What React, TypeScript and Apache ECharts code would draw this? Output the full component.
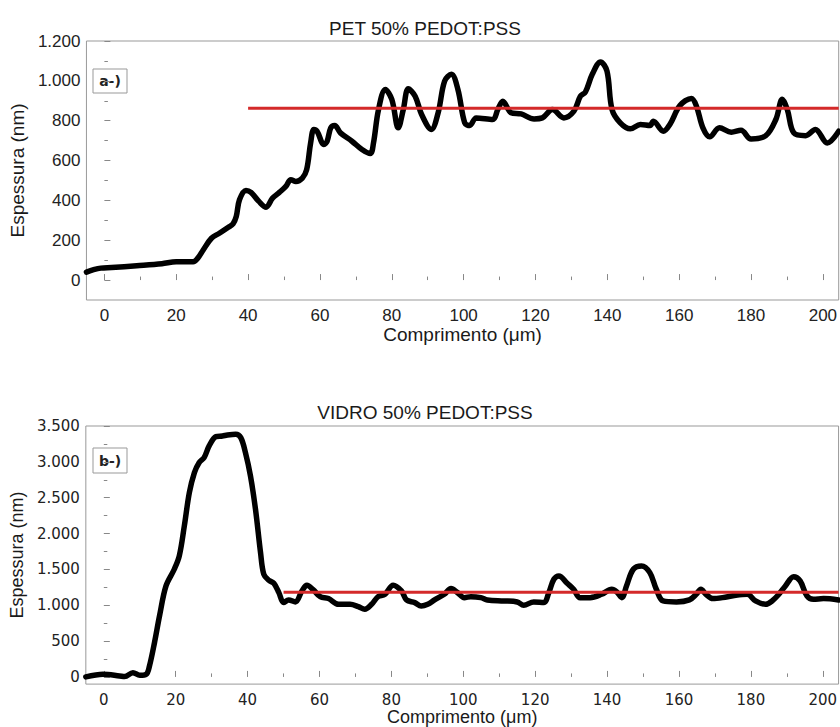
import React, { useEffect, useRef } from "react";
import * as echarts from "echarts";

// ---- data ----
const petX = [
  -5, -3, -1, 2, 9, 16, 20, 24.7, 26, 27.5,
  29.8, 32, 34.5, 35.8, 36.7, 37.6, 39.4, 40.8, 43, 45,
  46.8, 48.7, 50.5, 51.9, 53.3, 55.1, 56.3, 57.4, 58.3, 59.2,
  61.1, 62, 63, 64.1, 65.7, 68.9, 71.7, 74, 74.9, 76.3,
  78.2, 80, 81.8, 83.2, 84.6, 86.5, 88.3, 91, 92.9, 94.7,
  96.6, 98.4, 100.3, 101.7, 103.5, 108.1, 109.5, 110.9, 113.2, 116,
  119.6, 121.9, 124.7, 127.9, 130.7, 132.5, 133.9, 135.8, 138.1, 139.9,
  141.3, 143.6, 146.4, 149.2, 151.9, 152.8, 155.6, 157.4, 160.2, 163.4,
  164.8, 166.6, 168.5, 171.2, 174.5, 177.2, 180, 184.1, 186.9, 188.7,
  190.1, 191.9, 195.2, 197.9, 201.2, 204.4,
];
const petY = [
  40, 52, 60, 63, 72, 82, 92, 92, 110, 151,
  210, 235, 265, 282, 319, 403, 450, 440, 395, 366,
  411, 440, 470, 504, 495, 512, 554, 688, 756, 747,
  680, 697, 764, 776, 739, 697, 655, 635, 688, 856,
  957, 907, 764, 856, 960, 923, 831, 756, 840, 999,
  1033, 957, 789, 776, 814, 806, 856, 898, 840, 834,
  809, 814, 856, 814, 848, 923, 944, 1033, 1095, 1049,
  856, 789, 759, 781, 776, 797, 747, 781, 876, 912,
  873, 764, 719, 764, 742, 752, 708, 725, 806, 907,
  856, 739, 725, 756, 688, 747,
];
const vidroX = [
  -5, -0.2, 4.4, 5.8, 8.1, 10, 11.8, 12.7, 14.1, 15.5,
  17.3, 19.6, 21, 22.4, 23.8, 25.2, 26.5, 27.9, 29.3, 31.2,
  33, 34.4, 36.7, 38.1, 39.4, 40.8, 42.2, 43.6, 44.5, 45.9,
  47.3, 48.7, 50, 51.4, 53.3, 55.1, 56.5, 58.3, 60.2, 62.5,
  65.3, 68.5, 70.8, 72.6, 74.5, 76.3, 78.2, 80.5, 82.8, 84.2,
  86.5, 88.3, 90.1, 92, 94.7, 96.6, 98.4, 100.3, 102.1, 104.9,
  106.7, 111.3, 115, 116.8, 119.6, 122.4, 123.8, 125.2, 126.6, 128.9,
  130.7, 132.5, 135.3, 138.5, 141.3, 142.7, 144.1, 145.4, 147.3, 149.6,
  151.9, 153.7, 155.6, 159.3, 162.9, 164.8, 166.1, 167.5, 169.4, 172.1,
  175.8, 179, 181.3, 184.1, 185.9, 187.8, 189.6, 191.9, 193.7, 195.6,
  197.4, 200.2, 204.4,
];
const vidroY = [
  0, 37, 14, 5, 60, 23, 37, 153, 479, 851,
  1269, 1502, 1688, 2106, 2571, 2850, 2989, 3059, 3222, 3352,
  3361, 3375, 3385, 3338, 3129, 2803, 2338, 1734, 1432, 1348,
  1306, 1176, 1037, 1074, 1046, 1199, 1278, 1213, 1120, 1093,
  1013, 1013, 981, 944, 1013, 1120, 1153, 1278, 1199, 1074,
  1037, 990, 1013, 1074, 1153, 1232, 1176, 1106, 1120, 1106,
  1074, 1060, 1046, 1000, 1046, 1037, 1176, 1362, 1409, 1306,
  1223, 1106, 1106, 1153, 1223, 1185, 1106, 1269, 1502, 1548,
  1455, 1223, 1060, 1046, 1074, 1153, 1223, 1153, 1093, 1106,
  1139, 1153, 1060, 1013, 1060, 1153, 1269, 1399, 1339, 1130,
  1083, 1093, 1074,
];
const petMeanLine = { from: 40, to: 204.4, value: 862 };
const vidroMeanLine = { from: 50, to: 204.4, value: 1180 };

const xMajorTicks = [0, 20, 40, 60, 80, 100, 120, 140, 160, 180, 200];
const xMinorTicks = [10, 30, 50, 70, 90, 110, 130, 150, 170, 190];
const petYMajor = [0, 200, 400, 600, 800, 1000, 1200];
const petYMinor = [100, 300, 500, 700, 900, 1100];
const vidroYMajor = [0, 500, 1000, 1500, 2000, 2500, 3000, 3500];
const vidroYMinor = [250, 750, 1250, 1750, 2250, 2750, 3250];

const titles = ["PET 50% PEDOT:PSS", "VIDRO 50% PEDOT:PSS"];
const panelLabels = ["a-)", "b-)"];
const xName = "Comprimento (μm)";
const yName = "Espessura (nm)";

const fmt = (v: number) =>
  v >= 1000 ? `${Math.floor(v / 1000)}.${String(v % 1000).padStart(3, "0")}` : String(v);

const zip = (xs: number[], ys: number[]) => xs.map((x, i) => [x, ys[i]]);

export default function App() {
  const ref = useRef<HTMLDivElement>(null);
  useEffect(() => {
    if (!ref.current) return;
    const chart = echarts.init(ref.current, null, { renderer: "svg" });
    const arial = "Liberation Sans, Arial, sans-serif";
    const dejavu = "DejaVu Sans, Verdana, sans-serif";
    const X_MIN = -5;
    const X_MAX = 204.4;

    const mkX = (grid: number, main: boolean, font: string, size: number, gap: number, margin: number) => ({
      type: "value",
      gridIndex: grid,
      min: X_MIN,
      max: X_MAX,
      position: "bottom",
      name: main ? xName : "",
      nameLocation: "middle",
      nameGap: gap,
      nameTextStyle: { fontFamily: arial, fontSize: grid === 0 ? 19 : 18, color: "#1a1a1a" },
      axisLine: { show: false },
      splitLine: { show: false },
      axisTick: {
        show: true,
        inside: true,
        length: main ? 6 : 3.5,
        lineStyle: { color: "#888", width: 1 },
        customValues: main ? xMajorTicks : xMinorTicks,
      },
      axisLabel: {
        show: main,
        customValues: xMajorTicks,
        fontFamily: font,
        fontSize: size,
        color: "#222",
        margin,
      },
    });
    const mkY = (
      grid: number,
      main: boolean,
      min: number,
      max: number,
      major: number[],
      minor: number[],
      font: string,
      size: number,
      gap: number
    ) => ({
      type: "value",
      gridIndex: grid,
      min,
      max,
      position: "left",
      name: main ? yName : "",
      nameLocation: "middle",
      nameGap: gap,
      nameRotate: 90,
      nameTextStyle: { fontFamily: arial, fontSize: grid === 0 ? 19 : 18, color: "#1a1a1a" },
      axisLine: { show: false },
      splitLine: { show: false },
      axisTick: {
        show: true,
        inside: true,
        length: main ? 6 : 3.5,
        lineStyle: { color: "#888", width: 1 },
        customValues: main ? major : minor,
      },
      axisLabel: {
        show: main,
        customValues: major,
        formatter: fmt,
        fontFamily: font,
        fontSize: size,
        color: "#222",
        margin: 6,
      },
    });

    const labelBox = (y: number, h: number, text: string) => ({
      type: "group",
      children: [
        {
          type: "rect",
          shape: { x: 93, y, width: 34, height: h },
          style: { fill: "#fff", stroke: "#999", lineWidth: 1 },
        },
        {
          type: "text",
          x: 110,
          y: y + h / 2,
          style: {
            text,
            fontFamily: dejavu,
            fontWeight: "bold",
            fontSize: 14,
            fill: "#222",
            align: "center",
            verticalAlign: "middle",
          },
        },
      ],
    });

    chart.setOption({
      animation: false,
      backgroundColor: "#fff",
      grid: [
        { left: 82.5, top: 41, width: 757.5, height: 259, show: true, borderColor: "#999", borderWidth: 1, backgroundColor: "transparent" },
        { left: 82.5, top: 426, width: 757.5, height: 259, show: true, borderColor: "#999", borderWidth: 1, backgroundColor: "transparent" },
      ],
      xAxis: [
        mkX(0, true, arial, 17, 18, 7),
        mkX(0, false, arial, 17, 18, 7),
        mkX(1, true, dejavu, 15, 22, 8),
        mkX(1, false, dejavu, 15, 22, 8),
      ],
      yAxis: [
        mkY(0, true, -100, 1200, petYMajor, petYMinor, arial, 17, 52),
        mkY(0, false, -100, 1200, petYMajor, petYMinor, arial, 17, 52),
        mkY(1, true, -100, 3500, vidroYMajor, vidroYMinor, dejavu, 15, 52),
        mkY(1, false, -100, 3500, vidroYMajor, vidroYMinor, dejavu, 15, 52),
      ],
      graphic: [
        {
          type: "text",
          x: 425,
          y: 28,
          style: { text: titles[0], fontFamily: arial, fontSize: 19, fill: "#1a1a1a", align: "center", verticalAlign: "middle" },
        },
        {
          type: "text",
          x: 425,
          y: 412,
          style: { text: titles[1], fontFamily: arial, fontSize: 19, fill: "#1a1a1a", align: "center", verticalAlign: "middle" },
        },
        labelBox(69, 24, panelLabels[0]),
        labelBox(448, 25, panelLabels[1]),
      ],
      series: [
        {
          type: "line",
          xAxisIndex: 0,
          yAxisIndex: 0,
          data: zip(petX, petY),
          smooth: 0.35,
          showSymbol: false,
          lineStyle: { color: "#000", width: 5.5, cap: "round", join: "round" },
          z: 2,
        },
        {
          type: "line",
          xAxisIndex: 0,
          yAxisIndex: 0,
          data: [
            [petMeanLine.from, petMeanLine.value],
            [petMeanLine.to, petMeanLine.value],
          ],
          showSymbol: false,
          lineStyle: { color: "#d42a2a", width: 3 },
          z: 3,
        },
        {
          type: "line",
          xAxisIndex: 2,
          yAxisIndex: 2,
          data: zip(vidroX, vidroY),
          smooth: 0.35,
          showSymbol: false,
          lineStyle: { color: "#000", width: 5.5, cap: "round", join: "round" },
          z: 2,
        },
        {
          type: "line",
          xAxisIndex: 2,
          yAxisIndex: 2,
          data: [
            [vidroMeanLine.from, vidroMeanLine.value],
            [vidroMeanLine.to, vidroMeanLine.value],
          ],
          showSymbol: false,
          lineStyle: { color: "#d42a2a", width: 3 },
          z: 3,
        },
      ],
    });
    return () => chart.dispose();
  }, []);
  return (
    <div
      ref={ref}
      style={{ position: "absolute", left: 0, top: 0, width: 840, height: 727 }}
    />
  );
}
